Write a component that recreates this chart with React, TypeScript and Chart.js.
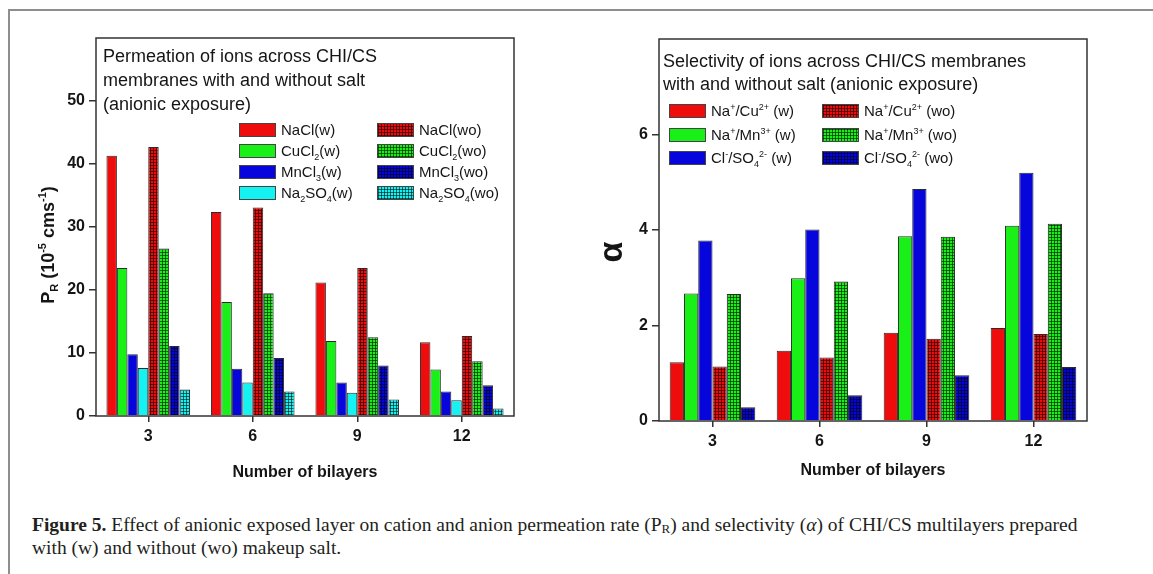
import React, { useEffect, useRef } from 'react';
import { Chart, registerables } from 'chart.js';

Chart.register(...registerables);

// ---------------- DATA ----------------
const categories = ['3', '6', '9', '12'];

// Left panel: permeation rate P_R (10^-5 cm s^-1)
const permLabels = [
  'NaCl(w)', 'CuCl_{2}(w)', 'MnCl_{3}(w)', 'Na_{2}SO_{4}(w)',
  'NaCl(wo)', 'CuCl_{2}(wo)', 'MnCl_{3}(wo)', 'Na_{2}SO_{4}(wo)',
];
const naclW = [41.3, 32.4, 21.2, 11.7];
const cucl2W = [23.5, 18.1, 11.9, 7.4];
const mncl3W = [9.8, 7.5, 5.3, 3.9];
const na2so4W = [7.6, 5.3, 3.7, 2.5];
const naclWo = [42.7, 33.1, 23.5, 12.7];
const cucl2Wo = [26.6, 19.5, 12.5, 8.7];
const mncl3Wo = [11.1, 9.2, 8.0, 4.9];
const na2so4Wo = [4.2, 3.9, 2.6, 1.2];
const permTicks = [0, 10, 20, 30, 40, 50];
const permMax = 60;

// Right panel: selectivity alpha
const selLabels = [
  'Na^{+}/Cu^{2+} (w)', 'Na^{+}/Mn^{3+} (w)', 'Cl^{-}/SO_{4}^{2-} (w)',
  'Na^{+}/Cu^{2+} (wo)', 'Na^{+}/Mn^{3+} (wo)', 'Cl^{-}/SO_{4}^{2-} (wo)',
];
const naCuW = [1.23, 1.47, 1.85, 1.95];
const naMnW = [2.67, 2.99, 3.87, 4.09];
const clSo4W = [3.78, 4.01, 4.86, 5.2];
const naCuWo = [1.14, 1.33, 1.72, 1.82];
const naMnWo = [2.66, 2.92, 3.86, 4.13];
const clSo4Wo = [0.29, 0.54, 0.96, 1.13];
const selTicks = [0, 2, 4, 6];
const selMax = 8;

const leftTitle = ['Permeation of ions across CHI/CS', 'membranes with and without salt', '(anionic exposure)'];
const rightTitle = ['Selectivity of ions across CHI/CS membranes', 'with and without salt (anionic exposure)'];
const leftYTitle = 'P_{R} (10^{-5} cms^{-1})';
const rightYTitle = 'α';
const xTitle = 'Number of bilayers';

// ---------------- STYLE ----------------
const FONT = "'Liberation Sans', Arial, sans-serif";
const RED = '#ee0c0c';
const GREEN = '#18f018';
const BLUE = '#0606dc';
const CYAN = '#14f2f2';
const INK = '#151515';

function hatch(color: string): CanvasPattern | string {
  const c = document.createElement('canvas');
  c.width = 3;
  c.height = 3;
  const g = c.getContext('2d');
  if (!g) return color;
  g.fillStyle = color;
  g.fillRect(0, 0, 3, 3);
  g.fillStyle = 'rgba(0,0,0,0.55)';
  g.fillRect(0, 0, 3, 1);
  g.fillRect(0, 0, 1, 3);
  const p = g.createPattern(c, 'repeat');
  return p || color;
}

type Seg = { t: string; k: 'n' | 'sub' | 'sup' };
function parseRich(s: string): Seg[] {
  const out: Seg[] = [];
  const re = /([_^])\{([^}]*)\}/g;
  let last = 0;
  let m: RegExpExecArray | null;
  while ((m = re.exec(s))) {
    if (m.index > last) out.push({ t: s.slice(last, m.index), k: 'n' });
    out.push({ t: m[2], k: m[1] === '_' ? 'sub' : 'sup' });
    last = re.lastIndex;
  }
  if (last < s.length) out.push({ t: s.slice(last), k: 'n' });
  return out;
}

function segFont(k: string, size: number, weight: string) {
  const sz = k === 'n' ? size : Math.round(size * 0.6);
  return `${weight} ${sz}px ${FONT}`;
}

function richWidth(ctx: CanvasRenderingContext2D, s: string, size: number, weight: string) {
  let w = 0;
  for (const seg of parseRich(s)) {
    ctx.font = segFont(seg.k, size, weight);
    w += ctx.measureText(seg.t).width;
  }
  return w;
}

function drawRich(
  ctx: CanvasRenderingContext2D, s: string, x: number, baseline: number,
  size: number, weight: string, align: 'left' | 'center' = 'left',
) {
  let cx = x;
  if (align === 'center') cx = x - richWidth(ctx, s, size, weight) / 2;
  ctx.textAlign = 'left';
  ctx.textBaseline = 'alphabetic';
  for (const seg of parseRich(s)) {
    ctx.font = segFont(seg.k, size, weight);
    let dy = 0;
    if (seg.k === 'sub') dy = size * 0.24;
    if (seg.k === 'sup') dy = -size * 0.42;
    ctx.fillText(seg.t, cx, baseline + dy);
    cx += ctx.measureText(seg.t).width;
  }
}

type Decor = {
  title: string[];
  titleX: number;
  titleY: number[];
  legendCols: number[];
  legendRows: number[];
  rowsPerCol: number;
  yTitle: string;
  yTitleX: number;
  yTitleY: number;
  yTitleSize: number;
  xTitleX: number;
  xTitleY: number;
};

function decorPlugin(d: Decor) {
  return {
    id: 'decor',
    afterDraw(chart: any) {
      const ctx: CanvasRenderingContext2D = chart.ctx;
      const a = chart.chartArea;
      ctx.save();
      // frame
      ctx.strokeStyle = '#333';
      ctx.lineWidth = 1.5;
      ctx.strokeRect(a.left, a.top, a.right - a.left, a.bottom - a.top);
      ctx.fillStyle = INK;
      // inner title
      d.title.forEach((line, i) => drawRich(ctx, line, d.titleX, d.titleY[i] + 6.5, 18, 'normal'));
      // legend
      chart.data.datasets.forEach((ds: any, i: number) => {
        const col = Math.floor(i / d.rowsPerCol);
        const row = i % d.rowsPerCol;
        const sx = d.legendCols[col];
        const cy = d.legendRows[row];
        ctx.fillStyle = ds.backgroundColor;
        ctx.fillRect(sx, cy - 7, 37, 14);
        ctx.strokeStyle = '#444';
        ctx.lineWidth = 1;
        ctx.strokeRect(sx + 0.5, cy - 6.5, 36, 13);
        ctx.fillStyle = INK;
        drawRich(ctx, ds.label, sx + 42, cy + 5.4, 15, 'normal');
      });
      // y title (rotated)
      ctx.save();
      ctx.translate(d.yTitleX, d.yTitleY);
      ctx.rotate(-Math.PI / 2);
      ctx.fillStyle = INK;
      drawRich(ctx, d.yTitle, 0, 0, d.yTitleSize, 'bold', 'center');
      ctx.restore();
      // x title
      ctx.fillStyle = INK;
      drawRich(ctx, xTitle, d.xTitleX, d.xTitleY + 5.8, 16, 'bold', 'center');
      ctx.restore();
    },
  };
}

function makeConfig(
  datasets: any[], max: number, step: number, tickVals: number[],
  pad: { top: number; right: number }, yw: number, xh: number, decor: Decor,
): any {
  const tickFont = { family: FONT, size: 16, weight: 'bold' as const };
  return {
    type: 'bar',
    data: { labels: categories, datasets },
    plugins: [decorPlugin(decor)],
    options: {
      responsive: false,
      animation: false,
      events: [],
      layout: { padding: { left: 0, top: pad.top, right: pad.right, bottom: 0 } },
      plugins: { legend: { display: false }, tooltip: { enabled: false }, title: { display: false } },
      datasets: { bar: { categoryPercentage: 0.8, barPercentage: 1.0 } },
      scales: {
        x: {
          type: 'category',
          offset: true,
          border: { display: false },
          grid: { offset: false, drawOnChartArea: false, drawTicks: true, tickLength: 6, color: '#333', lineWidth: 1.5 },
          ticks: { font: tickFont, color: INK, padding: 5, maxRotation: 0 },
          afterFit: (s: any) => { s.height = xh; },
        },
        y: {
          min: 0,
          max,
          border: { display: false },
          afterBuildTicks: (s: any) => {
            s.ticks = [...tickVals, max].map((v) => ({ value: v }));
          },
          ticks: {
            stepSize: step,
            font: tickFont,
            color: INK,
            padding: 4,
            callback: (v: any) => (tickVals.includes(Number(v)) ? String(v) : ''),
          },
          grid: {
            drawOnChartArea: false,
            tickLength: 7,
            lineWidth: 1.5,
            color: (c: any) => (c.tick && tickVals.includes(c.tick.value) ? '#333' : 'rgba(0,0,0,0)'),
          },
          afterFit: (s: any) => { s.width = yw; },
        },
      },
    },
  };
}

function bar(label: string, data: number[], fill: any) {
  return { label, data, backgroundColor: fill, borderColor: '#2a2a2a', borderWidth: 1 };
}

export default function App() {
  const leftRef = useRef<HTMLCanvasElement>(null);
  const rightRef = useRef<HTMLCanvasElement>(null);

  useEffect(() => {
    const leftSets = [
      bar(permLabels[0], naclW, RED),
      bar(permLabels[1], cucl2W, GREEN),
      bar(permLabels[2], mncl3W, BLUE),
      bar(permLabels[3], na2so4W, CYAN),
      bar(permLabels[4], naclWo, hatch(RED)),
      bar(permLabels[5], cucl2Wo, hatch(GREEN)),
      bar(permLabels[6], mncl3Wo, hatch(BLUE)),
      bar(permLabels[7], na2so4Wo, hatch(CYAN)),
    ];
    const rightSets = [
      bar(selLabels[0], naCuW, RED),
      bar(selLabels[1], naMnW, GREEN),
      bar(selLabels[2], clSo4W, BLUE),
      bar(selLabels[3], naCuWo, hatch(RED)),
      bar(selLabels[4], naMnWo, hatch(GREEN)),
      bar(selLabels[5], clSo4Wo, hatch(BLUE)),
    ];
    const c1 = new Chart(
      leftRef.current as HTMLCanvasElement,
      makeConfig(leftSets, permMax, 10, permTicks, { top: 38, right: 580 - 514 }, 96, 500 - 416, {
        title: leftTitle,
        titleX: 103,
        titleY: [55, 79, 103],
        legendCols: [239, 377],
        legendRows: [130, 151, 172, 193],
        rowsPerCol: 4,
        yTitle: leftYTitle,
        yTitleX: 53.5,
        yTitleY: 245,
        yTitleSize: 18,
        xTitleX: 305,
        xTitleY: 471,
      }),
    );
    const c2 = new Chart(
      rightRef.current as HTMLCanvasElement,
      makeConfig(rightSets, selMax, 2, selTicks, { top: 39, right: 573 - 507 }, 79, 500 - 421, {
        title: rightTitle,
        titleX: 83,
        titleY: [60, 83],
        legendCols: [89, 242],
        legendRows: [111, 135, 158],
        rowsPerCol: 3,
        yTitle: rightYTitle,
        yTitleX: 42,
        yTitleY: 252,
        yTitleSize: 34,
        xTitleX: 293,
        xTitleY: 469,
      }),
    );
    return () => {
      c1.destroy();
      c2.destroy();
    };
  }, []);

  return (
    <div style={{ position: 'fixed', left: 0, top: 0, width: 1153, height: 574, background: '#fff', overflow: 'hidden' }}>
      <div
        style={{
          position: 'absolute', left: 8, top: 9, width: 1300, height: 700,
          borderTop: '2px solid #8e8e8e', borderLeft: '2px solid #8e8e8e',
        }}
      />
      <canvas ref={leftRef} width={580} height={500} style={{ position: 'absolute', left: 0, top: 0, display: 'block' }} />
      <canvas ref={rightRef} width={573} height={500} style={{ position: 'absolute', left: 580, top: 0, display: 'block' }} />
      <div
        style={{
          position: 'absolute', left: 32, top: 513, whiteSpace: 'nowrap',
          fontFamily: "'Liberation Serif', 'Times New Roman', serif", fontSize: 19.5, lineHeight: '23px', color: '#231f20',
        }}
      >
        <b>Figure 5.</b> Effect of anionic exposed layer on cation and anion permeation rate (P<sub style={{ fontSize: 13, verticalAlign: '-2px', lineHeight: 0 }}>R</sub>) and selectivity (<i>α</i>) of CHI/CS multilayers prepared
        <br />
        with (w) and without (wo) makeup salt.
      </div>
    </div>
  );
}
